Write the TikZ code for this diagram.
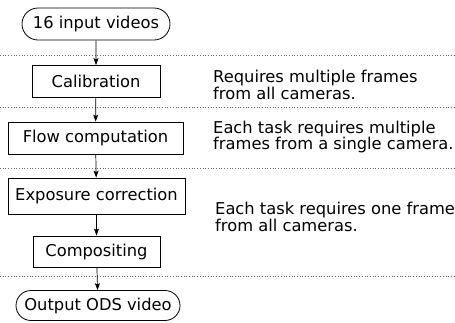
\documentclass[tikz,border=0pt]{standalone}
\usepackage{fontspec}
\setmainfont{DejaVu Sans}
\usetikzlibrary{arrows.meta,shapes.misc}
\begin{document}
\begin{tikzpicture}[x=1pt,y=-1pt,
  every node/.style={font=\fontsize{16.3}{14.5}\selectfont, inner sep=0pt},
  stepbox/.style={draw, line width=0.8pt, minimum height=32pt, anchor=center},
  termbox/.style={draw, line width=0.8pt, rounded rectangle, minimum height=32pt},
  note/.style={align=left, anchor=west},
  sep/.style={dotted, line width=0.7pt, gray!80!black},
  flow/.style={-{Stealth[length=7pt,width=5pt,inset=1.5pt]}, line width=0.7pt}]
\useasboundingbox (0,0) rectangle (455,322);
\node[termbox, minimum width=148pt] (in) at (96,24) {16 input videos};
\node[stepbox, minimum width=128pt] (cal) at (96,81.5) {Calibration};
\node[stepbox, minimum width=175pt] (flw) at (95.5,138) {Flow computation};
\node[stepbox, minimum width=177pt, minimum height=36pt] (exp) at (96.5,196) {Exposure correction};
\node[stepbox, minimum width=127pt, minimum height=31pt] (comp) at (96.5,251.5) {Compositing};
\node[termbox, minimum width=164pt, minimum height=30pt] (out) at (98,305.5) {Output ODS video};
\draw[sep] (0,55) -- (455,55);
\draw[sep] (0,107) -- (455,107);
\draw[sep] (0,168) -- (455,168);
\draw[sep] (0,276) -- (455,276);
\draw[flow] (in) -- (cal);
\draw[flow] (cal) -- (flw);
\draw[flow] (flw) -- (exp);
\draw[flow] (exp) -- (comp);
\draw[flow] (comp) -- (out);
\node[note] (n1) at (213,85) {Requires multiple frames\\from all cameras.};
\node[note] (n2) at (213,137) {Each task requires multiple\\frames from a single camera.};
\node[note] (n3) at (215,217) {Each task requires one frame\\from all cameras.};
\end{tikzpicture}
\end{document}
